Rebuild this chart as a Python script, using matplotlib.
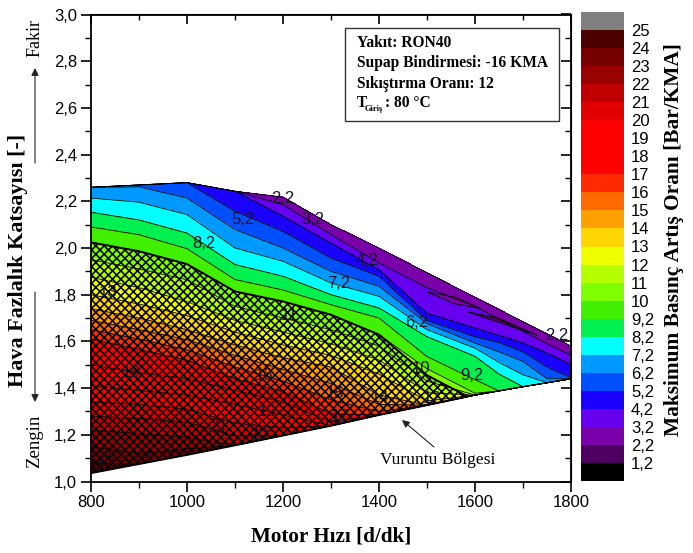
import numpy as np
import matplotlib
matplotlib.use("Agg")
import matplotlib.pyplot as plt
from matplotlib.ticker import MultipleLocator

plt.rcParams['font.family'] = ['Liberation Sans', 'DejaVu Sans']
plt.rcParams['hatch.linewidth'] = 1.15

# contour levels, bottom to top of the colour bar
levels = [2.2, 3.2, 4.2, 5.2, 6.2, 7.2, 8.2, 9.2, 10, 11, 12, 13, 14, 15, 16, 17, 18, 19, 20, 21, 22, 23, 24, 25]
tick_levels = [1.2] + levels
tick_text = ['1,2', '2,2', '3,2', '4,2', '5,2', '6,2', '7,2', '8,2', '9,2', '10', '11', '12', '13', '14', '15',
             '16', '17', '18', '19', '20', '21', '22', '23', '24', '25']

under_color = '#000000'
over_color = '#808080'
band_under = '#4d0060'
band_colors = ['#7a00aa', '#6600ee', '#1a00ff', '#0050ff', '#0099ff', '#00ffff', '#00f050', '#40f000',
               '#7fff00', '#b5ff00', '#f0ff00', '#ffd500', '#ff9f00', '#ff6a00', '#ff2a00', '#ff0000',
               '#ff0000', '#ff0000', '#e00000', '#c00000', '#990000', '#770000', '#4d0000']

# air excess ratio where each level passes, one list per engine speed
rpm = [800, 900, 1000, 1100, 1200, 1300, 1400, 1500, 1600, 1650, 1700, 1750, 1800]
phi_800 = [2.26]*5 + [2.214, 2.153, 2.09, 2.024, 1.95, 1.875, 1.80, 1.74, 1.69, 1.65, 1.61, 1.50, 1.41, 1.34, 1.28, 1.22, 1.15, 1.08, 1.036]
phi_900 = [2.27]*4 + [2.262, 2.196, 2.12, 2.057, 1.986, 1.91, 1.83, 1.76, 1.70, 1.65, 1.61, 1.565, 1.465, 1.39, 1.33, 1.27, 1.205, 1.12] + [1.075]*2
phi_1000 = [2.28]*4 + [2.214, 2.143, 2.064, 1.997, 1.931, 1.864, 1.77, 1.71, 1.65, 1.607, 1.564, 1.52, 1.44, 1.37, 1.31, 1.255, 1.19, 1.14] + [1.114]*2
phi_1100 = [2.243]*3 + [2.157, 2.079, 2.0, 1.929, 1.865, 1.814, 1.75, 1.69, 1.64, 1.585, 1.54, 1.49, 1.44, 1.39, 1.33, 1.25, 1.195] + [1.155]*4
phi_1200 = [2.218, 2.186, 2.136, 2.071, 2.0, 1.943, 1.879, 1.82, 1.771, 1.70, 1.64, 1.585, 1.53, 1.48, 1.43, 1.385, 1.34, 1.285, 1.23] + [1.197]*5
phi_1300 = [2.10, 2.057, 2.02, 1.957, 1.90, 1.85, 1.80, 1.757, 1.714, 1.65, 1.59, 1.54, 1.49, 1.42, 1.35, 1.29, 1.255] + [1.239]*7
phi_1400 = [2.0, 1.936, 1.907, 1.879, 1.836, 1.793, 1.743, 1.70, 1.629, 1.58, 1.52, 1.46, 1.37, 1.33, 1.30] + [1.285]*9
phi_1500 = [1.894, 1.83, 1.72, 1.69, 1.676, 1.65, 1.62, 1.535, 1.483, 1.43, 1.38, 1.345] + [1.327]*12
phi_1600 = [1.789, 1.75, 1.657, 1.62, 1.593, 1.571, 1.536, 1.436, 1.378] + [1.37]*15
phi_1650 = [1.737, 1.695, 1.625, 1.595, 1.555, 1.51, 1.46] + [1.388]*17
phi_1700 = [1.684, 1.643, 1.593, 1.555, 1.514, 1.457] + [1.406]*18
phi_1750 = [1.632, 1.59, 1.55, 1.49, 1.44] + [1.423]*19
phi_1800 = [1.58, 1.54, 1.50, 1.445] + [1.44]*20

# knock region outline
knock_rpm = [800, 900, 1000, 1100, 1200, 1300, 1400, 1500, 1585]
knock_top = [2.024, 1.986, 1.931, 1.814, 1.771, 1.714, 1.629, 1.455, 1.364]
knock_bottom = [1.036, 1.075, 1.114, 1.155, 1.197, 1.239, 1.285, 1.327, 1.364]

# two thin islands in the lean corner
island1_rpm = [1499, 1555, 1610]
island1_hi = [1.814, 1.793, 1.743]
island1_lo = [1.814, 1.764, 1.743]
island2_rpm = [1583, 1645, 1728]
island2_hi = [1.729, 1.704, 1.629]
island2_lo = [1.729, 1.686, 1.629]

label_text = ['2,2', '3,2', '5,2', '4,2', '8,2', '7,2', '6,2', '11', '10', '9,2', '2,2', '13', '18', '16', '15',
              '14', '12', '19', '17', '21', '20', '23', '24']
label_rpm = [1200, 1263, 1117, 1375, 1034, 1317, 1478, 1213, 1487, 1594, 1770, 835, 883, 1160, 1308,
             1402, 1510, 1167, 1319, 1065, 1148, 906, 830]
label_phi = [2.21, 2.12, 2.12, 1.945, 2.02, 1.85, 1.68, 1.71, 1.485, 1.455, 1.625, 1.81, 1.467, 1.453, 1.376,
             1.358, 1.355, 1.298, 1.277, 1.238, 1.2, 1.12, 1.10]

fig = plt.figure(figsize=(6.93, 5.53), dpi=100)
W, H = 693.0, 553.0


def box(left, top, right, bottom):
    return [left/W, 1-bottom/H, (right-left)/W, (bottom-top)/H]


ax = fig.add_axes(box(91, 14.5, 571, 481.5))

X = np.array(rpm)[None, :].repeat(len(levels), axis=0).astype(float)
Y = np.array([phi_800, phi_900, phi_1000, phi_1100, phi_1200, phi_1300, phi_1400, phi_1500,
              phi_1600, phi_1650, phi_1700, phi_1750, phi_1800]).T
Z = np.array(levels)[:, None].repeat(len(rpm), axis=1)

ax.contourf(X, Y, Z, levels=levels, colors=band_colors)
ax.contour(X, Y, Z, levels=levels, colors='black', linewidths=0.6)

ax.fill_between(island1_rpm, island1_lo, island1_hi, facecolor=band_colors[0], edgecolor='black', linewidth=0.6)
ax.fill_between(island2_rpm, island2_lo, island2_hi, facecolor=band_under, edgecolor='black', linewidth=0.6)

ax.fill_between(knock_rpm, knock_bottom, knock_top, facecolor='none', edgecolor='black', hatch='xxxx', linewidth=1.4)

for t, xv, yv in zip(label_text, label_rpm, label_phi):
    ax.text(xv, yv, t, fontsize=12, color='#14142a', ha='center', va='center')

ax.set_xlim(800, 1800)
ax.set_ylim(1.0, 3.0)
ax.xaxis.set_major_locator(MultipleLocator(200))
ax.xaxis.set_minor_locator(MultipleLocator(100))
ax.yaxis.set_minor_locator(MultipleLocator(0.1))
ax.set_yticks(np.arange(1.0, 3.01, 0.2))
ax.set_yticklabels(['1,0', '1,2', '1,4', '1,6', '1,8', '2,0', '2,2', '2,4', '2,6', '2,8', '3,0'])
ax.tick_params(which='major', direction='out', length=7, width=1.2, labelsize=12, pad=3)
ax.tick_params(which='minor', direction='out', length=4, width=1.0)
for s in ax.spines.values():
    s.set_linewidth(1.3)

# top and right axes have inward ticks
topax = ax.secondary_xaxis('top')
topax.xaxis.set_major_locator(MultipleLocator(200))
topax.xaxis.set_minor_locator(MultipleLocator(100))
topax.tick_params(which='major', direction='in', length=7, width=1.2, labeltop=False)
topax.tick_params(which='minor', direction='in', length=4, width=1.0)
rightax = ax.secondary_yaxis('right')
rightax.yaxis.set_major_locator(MultipleLocator(0.2))
rightax.yaxis.set_minor_locator(MultipleLocator(0.1))
rightax.tick_params(which='major', direction='in', length=7, width=1.2, labelright=False)
rightax.tick_params(which='minor', direction='in', length=4, width=1.0)

serif = ['Liberation Serif', 'DejaVu Serif']
fig.text(331/W, 1-536/H, 'Motor Hızı [d/dk]', family=serif, weight='bold', fontsize=15.2, ha='center', va='center')
fig.text(18/W, 1-260/H, 'Hava Fazlalık Katsayısı [-]', family=serif, weight='bold', fontsize=15.9,
         rotation=90, ha='center', va='center')
fig.text(35/W, 1-38/H, 'Fakir', family=serif, fontsize=13, rotation=90, ha='center', va='center')
fig.text(35/W, 1-441/H, 'Zengin', family=serif, fontsize=13.5, rotation=90, ha='center', va='center')
fig.text(674/W, 1-240/H, 'Maksimum Basınç Artış Oranı [Bar/KMA]', family=serif, weight='bold', fontsize=15.4,
         rotation=90, ha='center', va='center')
fig.text(438/W, 1-460/H, 'Vuruntu Bölgesi', family=serif, fontsize=12.6, ha='center', va='center')

fig_arrow = dict(arrowstyle='-|>', color='#222222', lw=0.8, mutation_scale=11, shrinkA=0, shrinkB=0)
fig.add_artist(matplotlib.patches.FancyArrowPatch((35/W, 1-163/H), (35/W, 1-68/H), transform=fig.transFigure, **fig_arrow))
fig.add_artist(matplotlib.patches.FancyArrowPatch((35/W, 1-292/H), (35/W, 1-402/H), transform=fig.transFigure, **fig_arrow))
fig.add_artist(matplotlib.patches.FancyArrowPatch((434/W, 1-447/H), (402/W, 1-420/H), transform=fig.transFigure, **fig_arrow))

# info box
fig.add_artist(matplotlib.patches.Rectangle((345/W, 1-121/H), 214/W, 93/H, transform=fig.transFigure,
                                            facecolor='white', edgecolor='#333333', linewidth=1.0))
info_text = ['Yakıt: RON40', 'Supap Bindirmesi: -16 KMA', 'Sıkıştırma Oranı: 12']
info_y = [43, 63, 84]
for t, yp in zip(info_text, info_y):
    fig.text(357/W, 1-yp/H, t, family=serif, weight='bold', fontsize=11.2, ha='left', va='center')
fig.text(357/W, 1-103/H, 'T', family=serif, weight='bold', fontsize=11.2, ha='left', va='center')
fig.text(365/W, 1-109/H, 'Giriş', family=serif, weight='bold', fontsize=6, ha='left', va='center')
fig.text(385/W, 1-103/H, ': 80 °C', family=serif, weight='bold', fontsize=11.2, ha='left', va='center')

# colour bar with equal height cells
cax = fig.add_axes(box(581, 12, 624, 481))
cells = [under_color, band_under] + band_colors + [over_color]
cax.bar([0]*len(cells), [1]*len(cells), bottom=np.arange(len(cells)), width=1, color=cells)
cax.set_xlim(-0.5, 0.5)
cax.set_ylim(0, len(cells))
cax.set_xticks([])
cax.set_yticks(np.arange(1, len(tick_levels)+1))
cax.set_yticklabels(tick_text)
cax.yaxis.tick_right()
cax.tick_params(axis='y', length=0, labelsize=12, pad=5)
for s in cax.spines.values():
    s.set_visible(False)

fig.savefig('out.png', dpi=100)
